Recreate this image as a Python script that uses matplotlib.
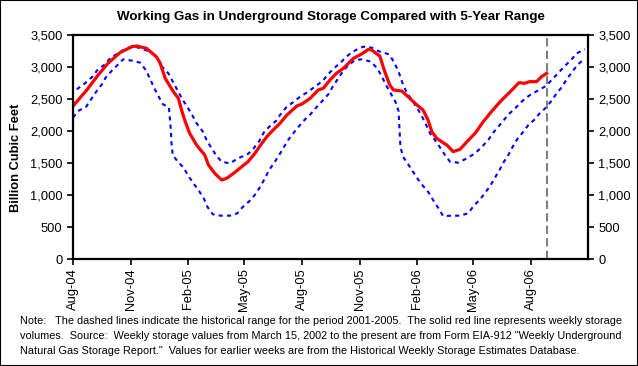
import datetime as dt
import matplotlib
matplotlib.use("Agg")
import matplotlib.pyplot as plt
import matplotlib.dates as mdates
from matplotlib.patches import Rectangle
from matplotlib.ticker import FuncFormatter, MultipleLocator

plt.rcParams["font.family"] = ["Liberation Sans", "DejaVu Sans"]

start = dt.date(2004, 8, 1)

# weekly storage, days after 1 Aug 2004 -> Bcf
red_day = [0, 22, 38, 56, 75, 94, 102, 117, 133, 139, 147, 160, 168, 173, 179, 186,
           197, 202, 210, 216, 226, 237, 245, 256, 269, 279, 290, 301, 309, 319, 330,
           341, 357, 365, 378, 391, 399, 410, 420, 431, 447, 460, 471, 476, 489, 497,
           505, 511, 524, 537, 550, 558, 566, 572, 580, 590, 596, 606, 617, 628, 641,
           654, 667, 681, 697, 711, 720, 728, 739, 747, 755]
red_val = [2390, 2640, 2850, 3060, 3225, 3318, 3328, 3292, 3160, 3057, 2823, 2614, 2510,
           2328, 2145, 1964, 1781, 1720, 1625, 1469, 1339, 1234, 1260, 1339, 1442, 1520,
           1651, 1807, 1911, 2015, 2120, 2250, 2391, 2422, 2510, 2641, 2667, 2800, 2901,
           2979, 3135, 3203, 3276, 3266, 3172, 2927, 2719, 2641, 2625, 2510, 2391, 2328,
           2172, 1990, 1885, 1817, 1781, 1677, 1714, 1833, 1964, 2145, 2302, 2458, 2614,
           2755, 2745, 2771, 2771, 2849, 2901]

# 5-year range 2001-2005, upper bound
hi_day = [6, 19, 31, 39, 51, 60, 70, 83, 96, 107, 123, 134, 141, 152, 160, 175, 182,
          190, 197, 207, 213, 221, 229, 237, 250, 263, 279, 288, 297, 304, 313, 324,
          330, 340, 350, 362, 375, 387, 398, 407, 416, 428, 439, 451, 463, 476, 489,
          504, 512, 519, 525, 532, 541, 549, 556, 563, 569, 577, 585, 593, 601, 614,
          628, 641, 651, 662, 670, 678, 686, 695, 706, 715, 727, 740, 754, 763, 774,
          784, 794, 803, 816]
hi_val = [2651, 2745, 2849, 2953, 3042, 3146, 3203, 3281, 3328, 3292, 3240, 3151, 3016,
          2901, 2755, 2484, 2380, 2250, 2120, 1990, 1859, 1729, 1609, 1520, 1494, 1573,
          1641, 1729, 1843, 1974, 2068, 2161, 2250, 2370, 2443, 2536, 2614, 2703, 2781,
          2891, 2979, 3083, 3188, 3266, 3318, 3302, 3240, 3198, 3073, 2927, 2755, 2599,
          2474, 2354, 2234, 2094, 1964, 1859, 1745, 1625, 1520, 1505, 1573, 1651, 1745,
          1859, 1974, 2068, 2161, 2266, 2365, 2458, 2552, 2625, 2703, 2797, 2911, 3016,
          3109, 3214, 3276]

# 5-year range 2001-2005, lower bound
lo_day = [0, 8, 21, 28, 37, 46, 53, 62, 71, 80, 94, 107, 116, 123, 129, 136, 143, 153,
          156, 157, 159, 167, 176, 184, 192, 201, 209, 214, 223, 235, 250, 262, 270,
          282, 292, 299, 306, 312, 320, 328, 335, 343, 352, 362, 370, 379, 388, 398,
          407, 414, 421, 430, 439, 450, 461, 475, 485, 492, 499, 507, 514, 519, 520,
          521, 522, 526, 534, 542, 550, 558, 566, 574, 582, 590, 604, 617, 630, 639,
          649, 657, 665, 672, 680, 686, 694, 701, 708, 718, 726, 735, 744, 754, 763,
          771, 779, 787, 796, 804, 813]
lo_val = [2210, 2312, 2380, 2484, 2614, 2729, 2849, 2943, 3031, 3120, 3099, 3068, 2953,
          2812, 2682, 2547, 2422, 2364, 2016, 1807, 1625, 1520, 1432, 1297, 1182, 1062,
          937, 818, 698, 677, 677, 714, 807, 911, 1026, 1141, 1260, 1380, 1494, 1614,
          1729, 1859, 1974, 2094, 2183, 2266, 2370, 2474, 2573, 2693, 2797, 2927, 3031,
          3109, 3120, 3083, 2979, 2859, 2719, 2578, 2458, 2312, 2120, 1937, 1755, 1599,
          1484, 1364, 1245, 1141, 1052, 922, 802, 672, 677, 677, 714, 833, 932, 1036,
          1141, 1260, 1391, 1505, 1625, 1755, 1869, 1990, 2094, 2172, 2276, 2365, 2474,
          2589, 2682, 2807, 2927, 3031, 3109]

tick_months = ["2004-08-01", "2004-11-01", "2005-02-01", "2005-05-01", "2005-08-01",
               "2005-11-01", "2006-02-01", "2006-05-01", "2006-08-01"]

note = ("Note:   The dashed lines indicate the historical range for the period 2001-2005.  "
        "The solid red line represents weekly storage\n"
        "volumes.  Source:  Weekly storage values from March 15, 2002 to the present are from "
        "Form EIA-912 \"Weekly Underground\n"
        "Natural Gas Storage Report.\"  Values for earlier weeks are from the Historical "
        "Weekly Storage Estimates Database.")


def to_dates(days):
    return [start + dt.timedelta(days=d) for d in days]


fig = plt.figure(figsize=(6.38, 3.66), dpi=100)
ax = fig.add_axes([73 / 638, 1 - 259 / 366, 515 / 638, 224 / 366])

ax.plot(to_dates(hi_day), hi_val, color="#0000ff", lw=1.5, ls=(0, (2, 2)))
ax.plot(to_dates(lo_day), lo_val, color="#0000ff", lw=1.5, ls=(0, (2, 2)))
ax.plot(to_dates(red_day), red_val, color="#ff0000", lw=2.3)
ax.axvline(to_dates([red_day[-1]])[0], color="#808080", lw=1.5, ls=(0, (4, 2)))

ax.set_xlim(start, dt.date(2006, 10, 31))
ax.set_ylim(0, 3500)
ax.yaxis.set_major_locator(MultipleLocator(500))
ax.yaxis.set_major_formatter(FuncFormatter(lambda v, p: f"{int(v):,}"))
ax.set_xticks([dt.date.fromisoformat(m) for m in tick_months])
ax.xaxis.set_major_formatter(mdates.DateFormatter("%b-%y"))

ax.tick_params(axis="both", direction="out", length=4.5, width=1.2, labelsize=9.3)
ax.tick_params(axis="y", right=True, labelright=True, pad=3)
ax.tick_params(axis="x", labelrotation=90, pad=2)
for s in ax.spines.values():
    s.set_linewidth(1.6)

ax.set_ylabel("Billion Cubic Feet", fontsize=9.3, fontweight="bold")
ax.yaxis.set_label_coords(-0.099, 0.45)
ax.set_title("Working Gas in Underground Storage Compared with 5-Year Range",
             fontsize=9.6, fontweight="bold", pad=11)

fig.text(20 / 638, 1 - 316 / 366, note, fontsize=7.8, va="top", ha="left", linespacing=1.62)
fig.patches.append(Rectangle((0, 0), 1, 1, transform=fig.transFigure, fill=False,
                             edgecolor="black", lw=1.5))

fig.savefig("out.png", dpi=100)
